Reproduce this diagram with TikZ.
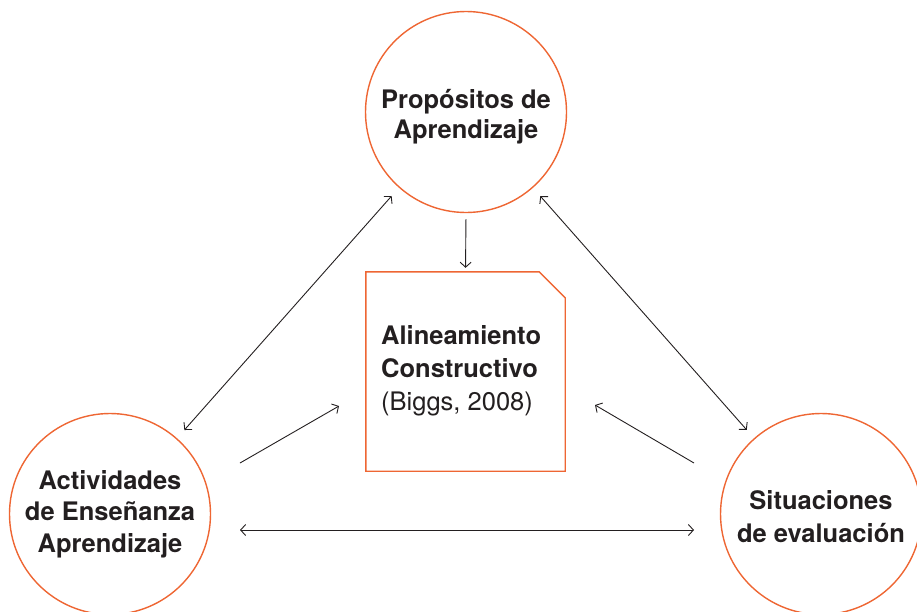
\documentclass[tikz,border=0pt]{standalone}
\usepackage{fontspec}
\setmainfont{TeX Gyre Heros}
\usetikzlibrary{arrows.meta}
\definecolor{accent}{HTML}{EE6633}
\definecolor{ink}{HTML}{231F20}
\tikzset{
  ring/.style={draw=accent, line width=1.4pt, circle, minimum size=201pt, inner sep=0pt},
  lbl/.style={text=ink, font=\bfseries\fontsize{25.5pt}{31.5pt}\selectfont, align=center, inner sep=0pt},
  conn/.style={draw=ink, line width=0.9pt, arrows={Straight Barb[length=5pt,width=11pt,line width=0.9pt]-Straight Barb[length=5pt,width=11pt,line width=0.9pt]}},
  single/.style={draw=ink, line width=0.9pt, arrows={-Straight Barb[length=5pt,width=11pt,line width=0.9pt]}},
}
\begin{document}
\begin{tikzpicture}[x=1pt,y=-1pt]
\useasboundingbox (0,0) rectangle (917,611);
% circles
\node[ring] (top) at (466,112) {};
\node[ring] (left) at (110,514) {};
\node[ring] (right) at (821,514) {};
% labels (base anchor = baseline of the last line)
\node[lbl, anchor=base, font=\bfseries\fontsize{25.5pt}{30pt}\selectfont] (toplbl) at (466,138) {Propósitos de\\Aprendizaje};
\node[lbl, anchor=base] (leftlbl) at (110,552) {Actividades\\de Enseñanza\\Aprendizaje};
\node[lbl, anchor=base, font=\bfseries\fontsize{25.5pt}{33pt}\selectfont] (rightlbl) at (821,542) {Situaciones\\de evaluación};
% central box
\node[minimum width=199pt, minimum height=199pt, inner sep=0pt] (box) at (465.5,371.5) {};
\draw[draw=accent, line width=1.4pt, line join=miter]
  (box.south west) -- (box.north west) -- ([xshift=-26pt]box.north east)
  -- ([yshift=-26pt]box.north east) -- (box.south east) -- cycle;
\node[anchor=base west, align=left, inner sep=0pt, text=ink, font=\fontsize{25.5pt}{33pt}\selectfont] (boxlbl) at (381,410)
  {\textbf{Alineamiento}\\\textbf{Constructivo}\\(Biggs, 2008)};
% connectors
\draw[conn, shorten <=11pt, shorten >=11pt] (top) -- (left);
\draw[conn, shorten <=11pt, shorten >=11pt] (top) -- (right);
\draw[single, shorten <=6pt, shorten >=4pt] (top.south) -- (box.north);
\coordinate (la) at (240,463);
\coordinate (lb) at (339,406);
\coordinate (ra) at (694,463);
\coordinate (rb) at (595,405);
\coordinate (ha) at (240,530);
\coordinate (hb) at (694,530);
\draw[single] (la) -- (lb);
\draw[single] (ra) -- (rb);
\draw[conn] (ha) -- (hb);
\end{tikzpicture}
\end{document}
